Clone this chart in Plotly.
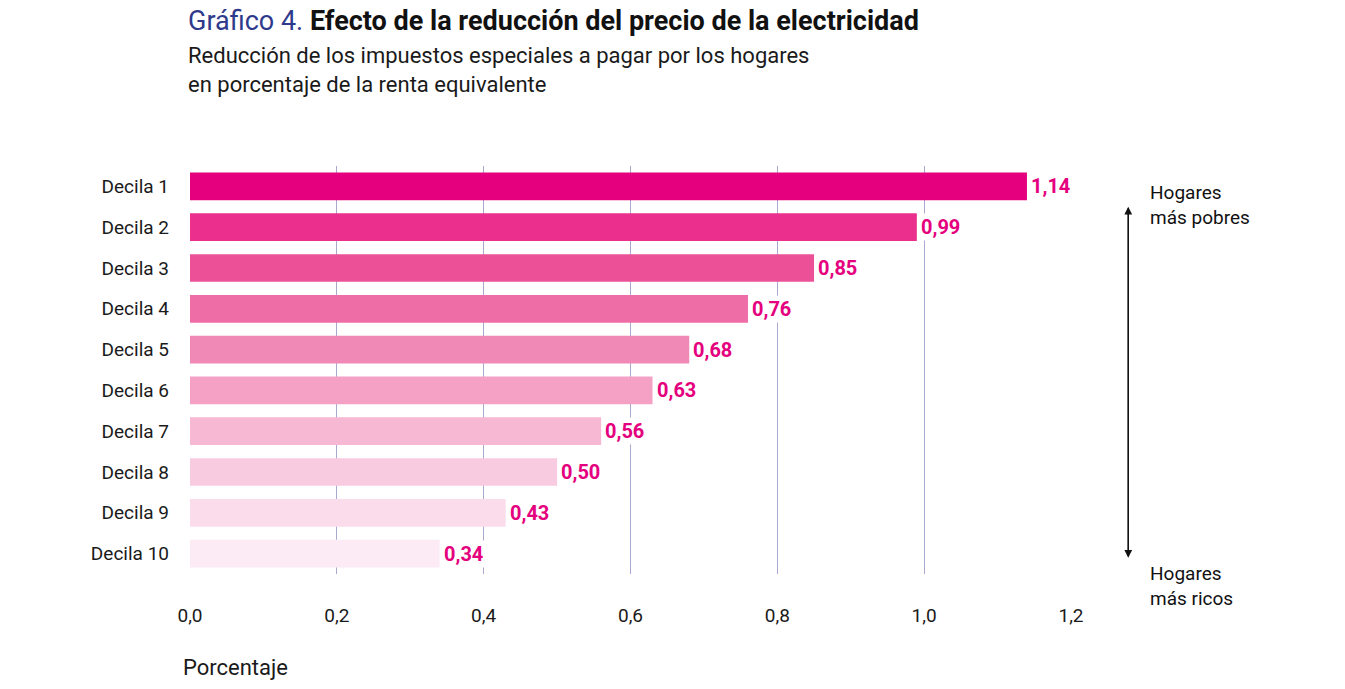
import plotly.graph_objects as go

categories = [f"Decila {i}" for i in range(1, 11)]
values = [1.14, 0.99, 0.85, 0.76, 0.68, 0.63, 0.56, 0.50, 0.43, 0.34]
labels = ["1,14", "0,99", "0,85", "0,76", "0,68", "0,63", "0,56", "0,50", "0,43", "0,34"]
colors = ["#E5007E", "#EA2F8C", "#EC5097", "#EF6DA6", "#F189B6", "#F4A1C5",
          "#F6B8D3", "#F8CBE0", "#FADCEB", "#FCEAF4"]
tickvals = [0, 0.2, 0.4, 0.6, 0.8, 1.0, 1.2]
ticktext = ["0,0", "0,2", "0,4", "0,6", "0,8", "1,0", "1,2"]

F = "Roboto, Liberation Sans, sans-serif"
fig = go.Figure(go.Bar(x=values, y=categories, orientation="h",
                       marker=dict(color=colors, line=dict(width=0)),
                       width=0.68, hoverinfo="skip"))
for c, v, t in zip(categories, values, labels):
    fig.add_annotation(x=v, y=c, text=f"<b>{t}</b>", showarrow=False, xanchor="left",
                       xshift=2, bgcolor="white", font=dict(size=20, color="#E5007E", family=F))

fig.update_layout(
    width=1345, height=689, plot_bgcolor="white", paper_bgcolor="white",
    margin=dict(l=182, r=282, t=158, b=123), showlegend=False,
    font=dict(family=F, size=19, color="#1a1a1a"),
    xaxis=dict(range=[0, 1.2], tickvals=tickvals, ticktext=ticktext, showgrid=True,
               gridcolor="#A9A8CF", gridwidth=1.3, zeroline=False, ticks="",
               ticklabelstandoff=28, fixedrange=True),
    yaxis=dict(categoryorder="array", categoryarray=categories[::-1], autorange=True,
               ticks="", ticklabelstandoff=20, showgrid=False),
)
fig.add_annotation(xref="paper", yref="paper", x=-0.005, y=1.355, xanchor="left", yanchor="middle",
                   showarrow=False, text="<span style='color:#2E3A8C'>Gráfico 4.</span> <b>Efecto de la reducción del precio de la electricidad</b>",
                   font=dict(size=27, color="#111", family=F))
fig.add_annotation(xref="paper", yref="paper", x=-0.005, y=1.235, xanchor="left", yanchor="middle",
                   showarrow=False, align="left",
                   text="Reducción de los impuestos especiales a pagar por los hogares<br>en porcentaje de la renta equivalente",
                   font=dict(size=22, color="#1a1a1a", family=F))
fig.add_annotation(xref="paper", yref="paper", x=-0.01, y=-0.23, xanchor="left", yanchor="middle",
                   showarrow=False, text="Porcentaje", font=dict(size=22, color="#1a1a1a", family=F))
# double arrow
for y0, y1 in [(0.9, 0.04), (0.04, 0.9)]:
    fig.add_annotation(xref="x domain", yref="y domain", x=1.065, y=y1, ax=1.065, ay=y0,
                       axref="x domain", ayref="y domain", showarrow=True, arrowhead=2,
                       arrowwidth=1.3, arrowsize=1.2, text="", arrowcolor="#111")
fig.add_annotation(xref="paper", yref="paper", x=1.087, y=0.905, xanchor="left", yanchor="middle",
                   showarrow=False, align="left", text="Hogares<br>más pobres",
                   font=dict(size=19, family=F, color="#111"))
fig.add_annotation(xref="paper", yref="paper", x=1.087, y=-0.03, xanchor="left", yanchor="middle",
                   showarrow=False, align="left", text="Hogares<br>más ricos",
                   font=dict(size=19, family=F, color="#111"))
fig.write_html("out.html")
